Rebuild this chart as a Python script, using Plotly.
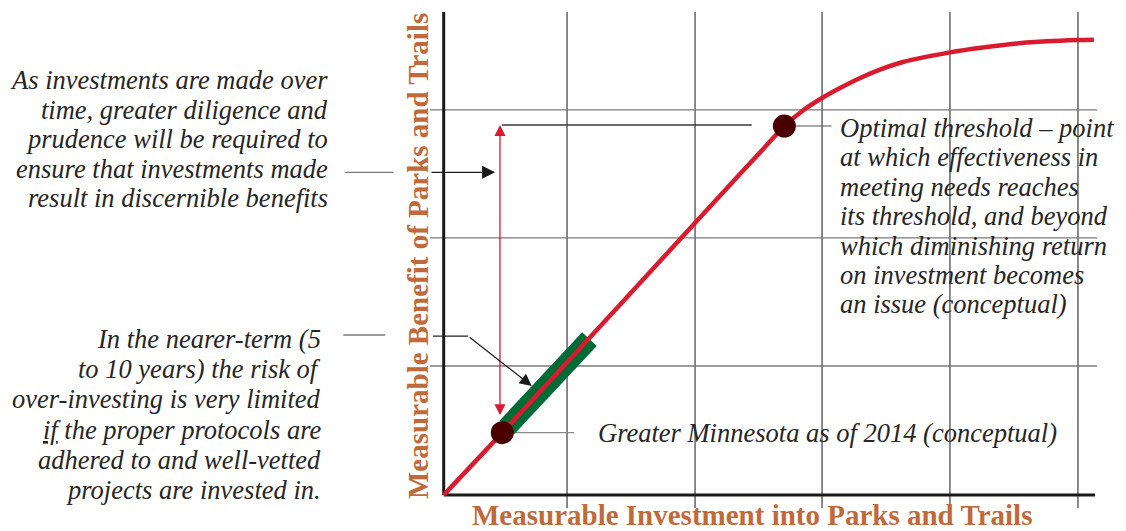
import plotly.graph_objects as go

# ---------------- data (conceptual curve) ----------------
curve_x = [0.0, 0.463, 2.342, 2.540, 2.693, 2.840, 2.991, 3.133, 3.267, 3.449, 3.631,
           4.002, 4.263, 4.532, 4.769, 5.014, 5.140]
curve_y = [0.0, 0.486, 2.502, 2.712, 2.876, 2.997, 3.094, 3.172, 3.239, 3.316, 3.375,
           3.450, 3.488, 3.519, 3.536, 3.546, 3.549]

current_x = [0.463]          # Greater Minnesota as of 2014
current_y = [0.486]
optimal_x = [2.693]          # optimal threshold
optimal_y = [2.876]

band_x = [0.499, 1.152]      # near-term investment band (green)
band_y = [0.526, 1.215]

grid_x = [0.975, 1.987, 2.991, 4.002, 5.014]
grid_y = [1.005, 2.004, 3.002]

x_axis_end = 5.149
y_axis_top = 3.765

top_left_lines = [
    "As investments are made over",
    "time, greater diligence and",
    "prudence will be required to",
    "ensure that investments made",
    "result in discernible benefits",
]
bottom_left_lines = [
    "In the nearer-term (5",
    "to 10 years) the risk of",
    "over-investing is very limited",
    "<u>if</u> the proper protocols are",
    "adhered to and well-vetted",
    "projects are invested in.",
]
optimal_lines = [
    "Optimal threshold \u2013 point",
    "at which effectiveness in",
    "meeting needs reaches",
    "its threshold, and beyond",
    "which diminishing return",
    "on investment becomes",
    "an issue (conceptual)",
]
current_label = "Greater Minnesota as of 2014 (conceptual)"
x_title = "Measurable Investment into Parks and Trails"
y_title = "Measurable Benefit of Parks and Trails"

# ---------------- styling ----------------
RED = "#d81b2e"
GREEN = "#006b35"
DOT = "#4a0000"
TITLE = "#c06a3b"
TXT = "#262626"
SERIF = "Liberation Serif, Times New Roman, serif"

PAGE_OFF = 8                      # browser body margin
W, H = 1126 - PAGE_OFF, 531 - PAGE_OFF
PX_X, PX_Y = 126.5, 128.3         # pixels per data unit
OX, OY = 443.7 - PAGE_OFF, 495.0 - PAGE_OFF   # origin inside the figure

fig = go.Figure()

def seg(x, y, color, width):
    fig.add_trace(go.Scatter(x=x, y=y, mode="lines", hoverinfo="skip",
                             line=dict(color=color, width=width), showlegend=False))

# grid lines
for gx in grid_x:
    seg([gx, gx], [-0.101, y_axis_top], "#3c3c3c", 1.2)
for gy in grid_y:
    seg([-0.108, 5.164], [gy, gy], "#7a7a7a", 1.4)

# axes
seg([0, 0], [0, y_axis_top], "#1a1a1a", 3)
seg([0, x_axis_end], [0, 0], "#1a1a1a", 3)

# connector lines
seg([0.46, 2.435], [2.884, 2.884], "#3a3a3a", 1.3)          # from optimal level to the red arrow
seg([current_x[0], 1.031], [current_y[0]] * 2, "#8a8a8a", 1.2)
seg([optimal_x[0], 3.067], [optimal_y[0]] * 2, "#555555", 1.2)
seg([-0.779, -0.397], [2.515, 2.515], "#7a7a7a", 1.3)       # from top-left text
seg([-0.794, -0.462], [1.247, 1.247], "#7a7a7a", 1.3)       # from bottom-left text
seg([-0.085, 0.193], [1.239, 1.239], "#222222", 1.2)        # bottom arrow, first leg

# green band, curve, dots
seg(band_x, band_y, GREEN, 20)
fig.add_trace(go.Scatter(x=curve_x, y=curve_y, mode="lines", hoverinfo="skip",
                         line=dict(color=RED, width=4.5, shape="spline", smoothing=0.8),
                         showlegend=False))
fig.add_trace(go.Scatter(x=current_x + optimal_x, y=current_y + optimal_y, mode="markers",
                         hoverinfo="skip", showlegend=False,
                         marker=dict(size=23, color=DOT, line=dict(width=0))))

ann = []
# red double arrow
ann.append(dict(x=0.445, y=2.884, ax=0.445, ay=0.610, xref="x", yref="y", axref="x", ayref="y",
                text="", showarrow=True, arrowside="end+start", arrowhead=2, startarrowhead=2,
                arrowsize=1.7, startarrowsize=1.7, arrowwidth=1.3, arrowcolor=RED))
# black arrow from the left
ann.append(dict(x=0.406, y=2.515, ax=-0.108, ay=2.515, xref="x", yref="y", axref="x", ayref="y",
                text="", showarrow=True, arrowhead=2, arrowsize=2.0, arrowwidth=1.3, arrowcolor="#1a1a1a"))
# black diagonal arrow to the band
ann.append(dict(x=0.696, y=0.850, ax=0.193, ay=1.239, xref="x", yref="y", axref="x", ayref="y",
                text="", showarrow=True, arrowhead=2, arrowsize=2.0, arrowwidth=1.2, arrowcolor="#1a1a1a"))

FS = 26.5
def lines(block, x, y0, dy, anchor):
    for i, t in enumerate(block):
        ann.append(dict(x=x, y=y0 - i * dy, xref="x", yref="y", text="<i>" + t + "</i>",
                        showarrow=False, xanchor=anchor, yanchor="middle",
                        font=dict(family=SERIF, size=FS, color=TXT)))

lines(top_left_lines, (330 - 443.7) / PX_X, (495 - 80) / PX_Y, 29.5 / PX_Y, "right")
lines(bottom_left_lines, (323 - 443.7) / PX_X, (495 - 339) / PX_Y, 30.2 / PX_Y, "right")
lines(optimal_lines, 3.118, (495 - 128) / PX_Y, 29.4 / PX_Y, "left")
lines([current_label], 1.204, 0.483, 0, "left")

ann.append(dict(x=2.437, y=-(531 - 495) / PX_Y, xref="x", yref="y", text="<b>" + x_title + "</b>",
                showarrow=False, xanchor="center", yanchor="bottom", borderpad=0, borderwidth=0,
                font=dict(family=SERIF, size=29, color=TITLE)))
ann.append(dict(x=-0.203, y=1.863, xref="x", yref="y", text="<b>" + y_title + "</b>",
                showarrow=False, xanchor="center", yanchor="middle", textangle=-90,
                font=dict(family=SERIF, size=29, color=TITLE)))

fig.update_layout(
    width=W, height=H, autosize=False,
    margin=dict(l=0, r=0, t=0, b=0, pad=0),
    paper_bgcolor="white", plot_bgcolor="white",
    xaxis=dict(range=[-OX / PX_X, (W - OX) / PX_X], visible=False, fixedrange=True),
    yaxis=dict(range=[-(H - OY) / PX_Y, OY / PX_Y], visible=False, fixedrange=True),
    annotations=ann,
    showlegend=False,
)

fig.write_html("out.html")
